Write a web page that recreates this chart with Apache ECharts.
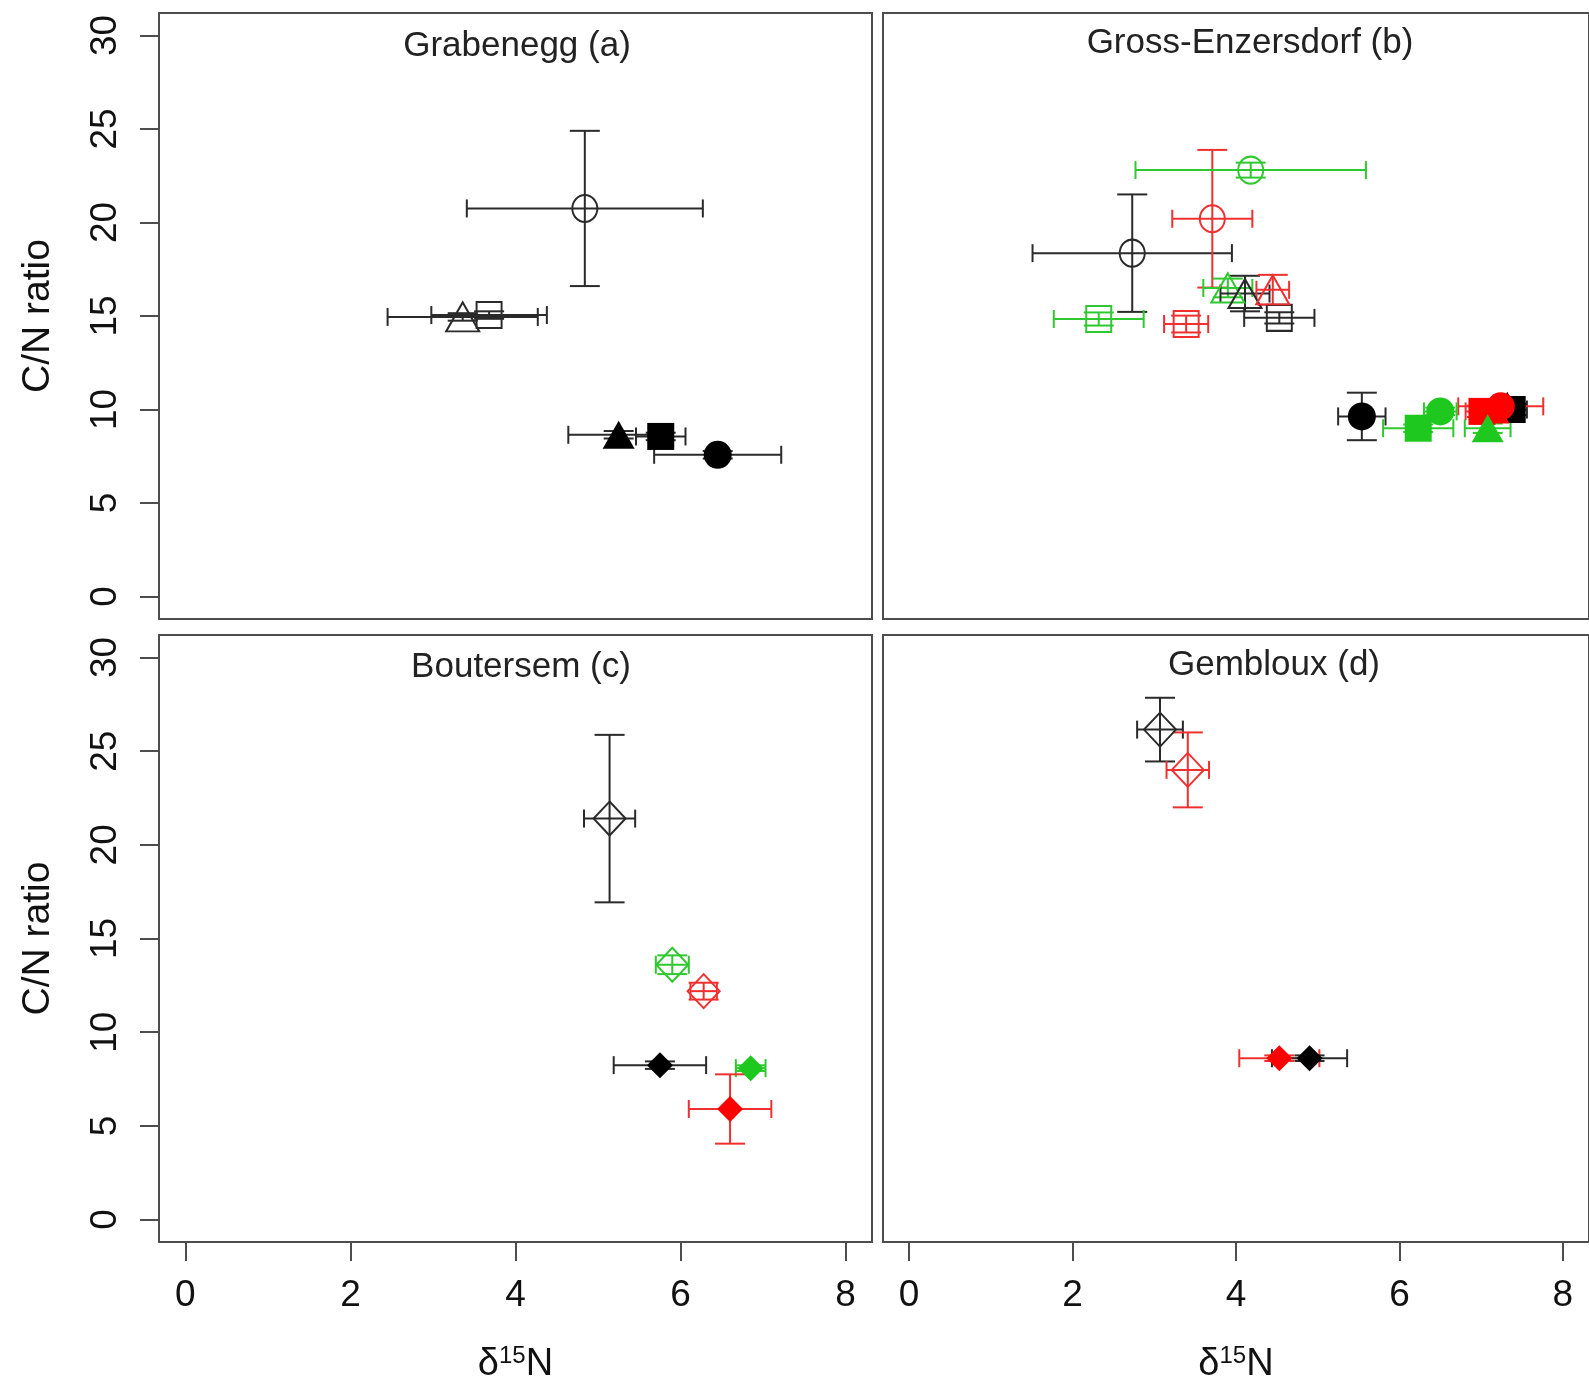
<!DOCTYPE html>
<html>
<head>
<meta charset="utf-8">
<script src="https://cdn.jsdelivr.net/npm/echarts@6/dist/echarts.min.js"></script>
<style>
  html, body { margin: 0; padding: 0; background: #fff; }
  #chart { width: 1589px; height: 1389px; }
</style>
</head>
<body>
<div id="chart"></div>
<script>
// tick labels and axis ranges (R style: 4% padding around 0..8 / 0..30)
const xTicks = [0, 2, 4, 6, 8];
const yTicks = [0, 5, 10, 15, 20, 25, 30];
const xRange = [-0.32, 8.32];
const yRange = [-1.2, 31.2];

const panelTitles = ['Grabenegg (a)', 'Gross-Enzersdorf (b)', 'Boutersem (c)', 'Gembloux (d)'];

// rows: [treatment, fraction, set, d15N, C/N, d15N error, C/N error]
const grabenegg = [
    ['T1', 'open',   'circle',   4.84, 20.75, 1.43, 4.15],
    ['T1', 'open',   'triangle', 3.36, 14.95, 0.91, 0.2],
    ['T1', 'open',   'square',   3.68, 15.05, 0.70, 0.2],
    ['T1', 'filled', 'triangle', 5.25, 8.65, 0.61, 0.2],
    ['T1', 'filled', 'square',   5.76, 8.56, 0.30, 0.2],
    ['T1', 'filled', 'circle',   6.45, 7.58, 0.77, 0.2]
];

const grossEnzersdorf = [
    ['T1', 'open',   'circle',   2.73, 18.36, 1.22, 3.14],
    ['T2', 'open',   'circle',   3.71, 20.20, 0.49, 3.68],
    ['T3', 'open',   'circle',   4.18, 22.80, 1.41, 0.40],
    ['T3', 'open',   'square',   2.32, 14.84, 0.55, 0.35],
    ['T2', 'open',   'square',   3.39, 14.57, 0.27, 0.45],
    ['T1', 'open',   'square',   4.53, 14.90, 0.43, 0.30],
    ['T3', 'open',   'triangle', 3.90, 16.50, 0.30, 0.50],
    ['T1', 'open',   'triangle', 4.11, 16.20, 0.30, 0.95],
    ['T2', 'open',   'triangle', 4.45, 16.40, 0.20, 0.80],
    ['T1', 'filled', 'circle',   5.54, 9.63, 0.29, 1.27],
    ['T1', 'filled', 'triangle', 7.32, 10.20, 0.15, 0.30],
    ['T1', 'filled', 'square',   7.38, 10.00, 0.18, 0.30],
    ['T2', 'filled', 'square',   7.01, 9.90, 0.20, 0.30],
    ['T2', 'filled', 'triangle', 7.15, 10.00, 0.20, 0.30],
    ['T2', 'filled', 'circle',   7.24, 10.17, 0.52, 0.30],
    ['T3', 'filled', 'square',   6.23, 9.00, 0.43, 0.20],
    ['T3', 'filled', 'circle',   6.50, 9.90, 0.20, 0.20],
    ['T3', 'filled', 'triangle', 7.08, 9.00, 0.28, 0.25]
];

const boutersem = [
    ['T1', 'open',   'diamond', 5.14, 21.40, 0.31, 4.47],
    ['T3', 'open',   'diamond', 5.90, 13.60, 0.20, 0.50],
    ['T2', 'open',   'diamond', 6.28, 12.19, 0.16, 0.45],
    ['T1', 'filled', 'diamond', 5.75, 8.24, 0.56, 0.20],
    ['T3', 'filled', 'diamond', 6.85, 8.08, 0.18, 0.15],
    ['T2', 'filled', 'diamond', 6.60, 5.90, 0.50, 1.85]
];

const gembloux = [
    ['T1', 'open',   'diamond', 3.07, 26.15, 0.28, 1.70],
    ['T2', 'open',   'diamond', 3.41, 24.00, 0.26, 2.00],
    ['T2', 'filled', 'diamond', 4.53, 8.61, 0.49, 0.15],
    ['T1', 'filled', 'diamond', 4.90, 8.61, 0.46, 0.15]
];

const panelData = [grabenegg, grossEnzersdorf, boutersem, gembloux];

// styles
const FONT = '"Liberation Sans", Arial, sans-serif';
const frameColor = '#4d4d4d';
const markColor = { T1: '#000000', T2: '#ff0000', T3: '#1ec81e' };
const barColor = { T1: '#2a2a2a', T2: '#f03030', T3: '#30c830' };
const symbolOf = { circle: 'circle', triangle: 'triangle', square: 'rect', diamond: 'diamond' };
const sizeOf = {
    open:   { circle: [25, 27], triangle: [33, 29], square: [25, 26], diamond: [32, 34] },
    filled: { circle: [28, 28], triangle: [32, 28], square: [27, 27], diamond: [26, 26] }
};

const grids = [
    { left: 159, top: 13, width: 713, height: 606 },
    { left: 883, top: 13, width: 713, height: 606 },
    { left: 159, top: 635, width: 713, height: 607 },
    { left: 883, top: 635, width: 713, height: 607 }
];
const titlePos = [[517, 46], [1250, 43], [521, 667], [1274, 665]];

function errorBars(rows) {
    return function (params, api) {
        const r = rows[params.dataIndex];
        const x = api.value(0), y = api.value(1), ex = api.value(2), ey = api.value(3);
        const style = { stroke: barColor[r[0]], lineWidth: 2, fill: null };
        const line = (x1, y1, x2, y2) => ({ type: 'line', shape: { x1, y1, x2, y2 }, style });
        const kids = [];
        if (ex > 0) {
            const a = api.coord([x - ex, y]), b = api.coord([x + ex, y]);
            kids.push(line(a[0], a[1], b[0], b[1]));
            kids.push(line(a[0], a[1] - 9, a[0], a[1] + 9));
            kids.push(line(b[0], b[1] - 9, b[0], b[1] + 9));
        }
        if (ey > 0) {
            const t = api.coord([x, y + ey]), b = api.coord([x, y - ey]);
            kids.push(line(t[0], t[1], b[0], b[1]));
            kids.push(line(t[0] - 15, t[1], t[0] + 15, t[1]));
            kids.push(line(b[0] - 15, b[1], b[0] + 15, b[1]));
        }
        return { type: 'group', children: kids };
    };
}

const chart = echarts.init(document.getElementById('chart'), null, { renderer: 'canvas' });

const xAxes = [], yAxes = [], series = [];
grids.forEach((g, i) => {
    const bottomRow = i >= 2, leftCol = i % 2 === 0;
    xAxes.push({
        gridIndex: i, type: 'value', min: xRange[0], max: xRange[1],
        show: bottomRow,
        axisLine: { show: false, onZero: false },
        splitLine: { show: false },
        axisTick: { show: true, customValues: xTicks, length: 19, inside: false,
            lineStyle: { color: frameColor, width: 2 } },
        axisLabel: { customValues: xTicks, margin: 35, fontFamily: FONT, fontSize: 37, color: '#111' },
        name: '{d|δ}{s|15}{n|N}',
        nameLocation: 'middle', nameGap: 102,
        nameTextStyle: {
            fontFamily: FONT, color: '#111',
            rich: {
                d: { fontFamily: FONT, fontSize: 38, color: '#111' },
                s: { fontFamily: FONT, fontSize: 24, color: '#111', verticalAlign: 'top', lineHeight: 42 },
                n: { fontFamily: FONT, fontSize: 38, color: '#111' }
            }
        }
    });
    yAxes.push({
        gridIndex: i, type: 'value', min: yRange[0], max: yRange[1],
        show: leftCol,
        axisLine: { show: false, onZero: false },
        splitLine: { show: false },
        axisTick: { show: true, customValues: yTicks, length: 19, inside: false,
            lineStyle: { color: frameColor, width: 2 } },
        axisLabel: { customValues: yTicks, rotate: 90, margin: 35, fontFamily: FONT, fontSize: 37, color: '#111' },
        name: 'C/N ratio',
        nameLocation: 'middle', nameGap: 101, nameRotate: 90,
        nameTextStyle: { fontFamily: FONT, fontSize: 39, color: '#111' }
    });

    const rows = panelData[i];
    series.push({
        type: 'custom',
        xAxisIndex: i, yAxisIndex: i,
        renderItem: errorBars(rows),
        data: rows.map(r => [r[3], r[4], r[5], r[6]]),
        encode: { x: 0, y: 1 },
        z: 2, silent: true
    });
    series.push({
        type: 'scatter',
        xAxisIndex: i, yAxisIndex: i,
        z: 3, silent: true,
        data: rows.map(r => {
            const filled = r[1] === 'filled';
            return {
                value: [r[3], r[4]],
                symbol: symbolOf[r[2]],
                symbolSize: sizeOf[r[1]][r[2]],
                itemStyle: filled
                    ? { color: markColor[r[0]], borderWidth: 0, opacity: 1 }
                    : { color: 'rgba(0,0,0,0)', borderColor: barColor[r[0]], borderWidth: 2, opacity: 1 }
            };
        })
    });
});

const option = {
    animation: false,
    backgroundColor: '#ffffff',
    grid: grids.map(g => Object.assign({
        show: true, borderColor: frameColor, borderWidth: 2, backgroundColor: 'transparent'
    }, g)),
    xAxis: xAxes,
    yAxis: yAxes,
    series: series,
    graphic: panelTitles.map((t, i) => ({
        type: 'text',
        x: titlePos[i][0], y: titlePos[i][1],
        z: 10,
        style: {
            text: t, fontFamily: FONT, fontSize: 35, fill: '#222',
            align: 'center', verticalAlign: 'middle'
        }
    }))
};

chart.setOption(option);
window.addEventListener('resize', () => chart.resize());
</script>
</body>
</html>
